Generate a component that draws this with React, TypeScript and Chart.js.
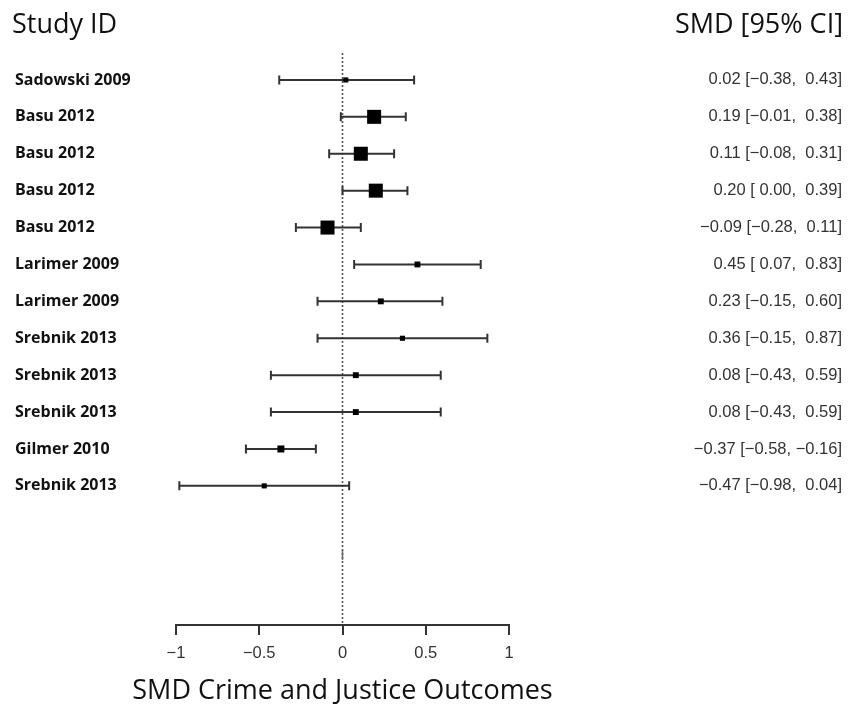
import React, { useEffect, useRef } from "react";
import { Chart, registerables } from "chart.js";

Chart.register(...registerables);

// ---- data ----
const studies = [
  "Sadowski 2009",
  "Basu 2012",
  "Basu 2012",
  "Basu 2012",
  "Basu 2012",
  "Larimer 2009",
  "Larimer 2009",
  "Srebnik 2013",
  "Srebnik 2013",
  "Srebnik 2013",
  "Gilmer 2010",
  "Srebnik 2013",
];
const smd = [0.02, 0.19, 0.11, 0.2, -0.09, 0.45, 0.23, 0.36, 0.08, 0.08, -0.37, -0.47];
const ciLower = [-0.38, -0.01, -0.08, 0.0, -0.28, 0.07, -0.15, -0.15, -0.43, -0.43, -0.58, -0.98];
const ciUpper = [0.43, 0.38, 0.31, 0.39, 0.11, 0.83, 0.6, 0.87, 0.59, 0.59, -0.16, 0.04];
const weights = [1.8, 13.6, 13.6, 13.6, 13.6, 2.4, 2.4, 1.8, 2.4, 2.4, 3.4, 1.8];
const xTicks = [-1, -0.5, 0, 0.5, 1];
const xTitle = "SMD Crime and Justice Outcomes";
const leftHeader = "Study ID";
const rightHeader = "SMD [95% CI]";

const MINUS = "\u2212";
const fmtCI = (v: number) => (v < 0 ? MINUS : " ") + Math.abs(v).toFixed(2);
const fmtEst = (v: number) => (v < 0 ? MINUS : "") + Math.abs(v).toFixed(2);
const ciLabels = smd.map(
  (m, i) => `${fmtEst(m)} [${fmtCI(ciLower[i])}, ${fmtCI(ciUpper[i])}]`
);

const forestPlugin = {
  id: "forestPlugin",
  beforeDatasetsDraw(chart: any) {
    const { ctx, chartArea, scales } = chart;
    const x = scales.x;
    const y = scales.y;
    ctx.save();
    // dotted reference line at 0
    const x0 = x.getPixelForValue(0);
    ctx.strokeStyle = "#555";
    ctx.lineWidth = 1.6;
    ctx.setLineDash([2, 2]);
    ctx.beginPath();
    ctx.moveTo(x0, chartArea.top);
    ctx.lineTo(x0, chartArea.bottom);
    ctx.stroke();
    ctx.setLineDash([]);
    // small solid mark on the empty summary row
    const ym = y.getPixelForValue(13.87);
    ctx.strokeStyle = "#666";
    ctx.lineWidth = 1.5;
    ctx.beginPath();
    ctx.moveTo(x0, ym - 5);
    ctx.lineTo(x0, ym + 5);
    ctx.stroke();
    // confidence intervals
    ctx.strokeStyle = "#333";
    ctx.lineWidth = 2;
    smd.forEach((_, i) => {
      const yy = y.getPixelForValue(i + 1);
      const xl = x.getPixelForValue(ciLower[i]);
      const xh = x.getPixelForValue(ciUpper[i]);
      ctx.beginPath();
      ctx.moveTo(xl, yy);
      ctx.lineTo(xh, yy);
      ctx.moveTo(xl, yy - 4.5);
      ctx.lineTo(xl, yy + 4.5);
      ctx.moveTo(xh, yy - 4.5);
      ctx.lineTo(xh, yy + 4.5);
      ctx.stroke();
    });
    ctx.restore();
  },
  afterDraw(chart: any) {
    const { ctx, chartArea } = chart;
    ctx.save();
    ctx.fillStyle = "#111";
    ctx.font = "27px 'Open Sans'";
    ctx.textBaseline = "alphabetic";
    ctx.textAlign = "left";
    ctx.fillText(leftHeader, 12, 33);
    ctx.textAlign = "right";
    ctx.fillText(rightHeader, 843, 33);
    // x axis title (centred under the axis, not squeezed to its width)
    ctx.textAlign = "center";
    ctx.fillText(xTitle, (chartArea.left + chartArea.right) / 2, 699);
    ctx.restore();
  },
};

export default function App() {
  const canvasRef = useRef<HTMLCanvasElement | null>(null);

  useEffect(() => {
    if (!canvasRef.current) return;
    const rowTicks = (scale: any) => {
      scale.ticks = studies.map((_, i) => ({ value: i + 1 }));
    };
    const chart = new Chart(canvasRef.current, {
      type: "scatter",
      data: {
        datasets: [
          {
            data: smd.map((v, i) => ({ x: v, y: i + 1 })),
            pointStyle: "rect",
            pointRadius: weights.map((w) => (3.8 * Math.sqrt(w)) / Math.SQRT2),
            pointHoverRadius: weights.map((w) => (3.8 * Math.sqrt(w)) / Math.SQRT2),
            backgroundColor: "#000",
            borderWidth: 0,
          },
        ],
      },
      options: {
        responsive: false,
        animation: false,
        layout: { padding: { left: 15, right: 18, top: 53, bottom: 0 } },
        plugins: {
          legend: { display: false },
          tooltip: { enabled: false },
        },
        scales: {
          x: {
            type: "linear",
            position: "bottom",
            min: -1,
            max: 1,
            afterBuildTicks: (scale: any) => {
              scale.ticks = xTicks.map((v) => ({ value: v }));
            },
            afterFit: (scale: any) => {
              scale.height = 87;
            },
            grid: {
              display: true,
              drawOnChartArea: false,
              drawTicks: true,
              tickLength: 10,
              color: "#333",
              lineWidth: 2,
            },
            border: { display: true, color: "#333", width: 2 },
            ticks: {
              padding: 9,
              color: "#333",
              font: { family: "'Liberation Sans', Arial, sans-serif", size: 16.5 },
              callback: (v: any) => {
                const n = Number(v);
                return (n < 0 ? MINUS : "") + String(Math.abs(n));
              },
            },
            title: { display: false },
          },
          y: {
            type: "linear",
            position: "left",
            min: 0.27,
            max: 15.77,
            reverse: true,
            afterBuildTicks: rowTicks,
            afterFit: (scale: any) => {
              scale.width = 161;
            },
            grid: { display: false },
            border: { display: false },
            ticks: {
              crossAlign: "far",
              color: "#111",
              font: { family: "'Open Sans', sans-serif", size: 16, weight: "bold" },
              callback: (v: any) => studies[Number(v) - 1] ?? "",
            },
          },
          y2: {
            type: "linear",
            position: "right",
            min: 0.27,
            max: 15.77,
            reverse: true,
            afterBuildTicks: rowTicks,
            afterFit: (scale: any) => {
              scale.width = 333;
            },
            grid: { display: false },
            border: { display: false },
            ticks: {
              crossAlign: "far",
              color: "#333",
              font: { family: "'Liberation Sans', Arial, sans-serif", size: 16.5 },
              callback: (v: any) => ciLabels[Number(v) - 1] ?? "",
            },
          },
        },
      },
      plugins: [forestPlugin],
    } as any);
    return () => chart.destroy();
  }, []);

  return (
    <div style={{ position: "fixed", left: 0, top: 0, width: 860, height: 712, background: "#fff" }}>
      <canvas ref={canvasRef} width={860} height={712} />
    </div>
  );
}
